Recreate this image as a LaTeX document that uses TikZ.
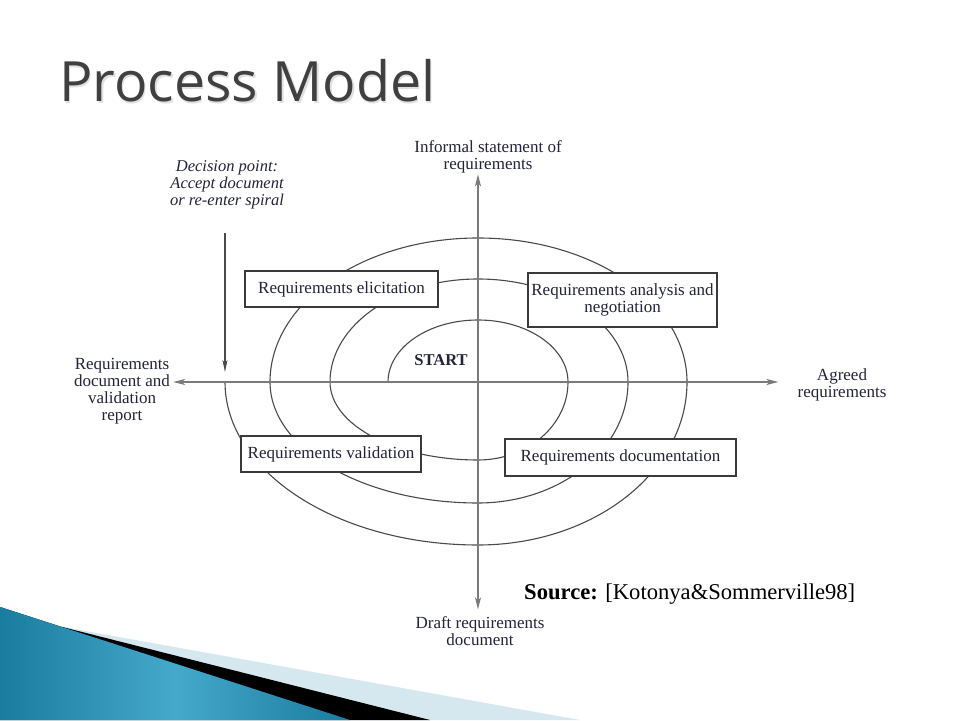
\documentclass[tikz,border=0pt]{standalone}
\usepackage{fontspec}
\setmainfont{Liberation Serif}
\newfontfamily\titlefont{Open Sans}
\usetikzlibrary{arrows.meta}
\definecolor{txt}{HTML}{23233A}
\definecolor{titlegray}{HTML}{404040}
\definecolor{boxline}{HTML}{3A3A3A}
\definecolor{spiralline}{HTML}{4A4A4A}
\definecolor{axisline}{HTML}{7A7A7A}
\definecolor{bandlight}{HTML}{D5E8EF}
\definecolor{bluedark}{HTML}{1A7C9E}
\definecolor{bluelight}{HTML}{45A9CC}
\tikzset{
  lbl/.style={font=\fontsize{17}{16.8}\selectfont, text=txt, align=center, inner sep=1pt},
  stagebox/.style={draw=boxline, line width=1.8pt, fill=white, font=\fontsize{17}{17.8}\selectfont, text=txt, align=center, inner sep=2pt},
  spiralpath/.style={draw=spiralline, line width=1.1pt},
  axis/.style={draw=axisline, line width=1.5pt, -{Stealth[length=12pt,width=6pt,inset=3pt]}},
}
\begin{document}
\begin{tikzpicture}[x=1pt,y=1pt]
\useasboundingbox (0,0) rectangle (960,720);
\fill[white] (0,0) rectangle (960,720);

% decoration bottom left
\fill[bandlight] (0,113) -- (60,93.6) -- (580,0) -- (0,0) -- cycle;
\fill[black] (0,113) -- (60,93.6) -- (430,0) -- (0,0) -- cycle;
\shade[left color=bluedark, right color=bluedark, middle color=bluelight] (0,113) -- (350,0) -- (0,0) -- cycle;

% title
\node[anchor=base west, inner sep=0pt, font=\titlefont\fontsize{55.5}{60}\selectfont, text=black!12] at (60.5,616.8) {Process Model};
\node (title) [anchor=base west, inner sep=0pt, font=\titlefont\fontsize{55.5}{60}\selectfont, text=titlegray] at (59,618.3) {Process Model};

% centre of the spiral
\coordinate (c) at (478,338);

% spiral
\path[spiralpath] (388,338)
  arc[start angle=180,end angle=90,x radius=90,y radius=62]
  arc[start angle=90,end angle=0,x radius=90,y radius=62]
  arc[start angle=0,end angle=-90,x radius=90,y radius=78]
  arc[start angle=-90,end angle=-180,x radius=148,y radius=78]
  arc[start angle=180,end angle=90,x radius=148,y radius=103]
  arc[start angle=90,end angle=0,x radius=150,y radius=103]
  arc[start angle=0,end angle=-90,x radius=150,y radius=121]
  arc[start angle=-90,end angle=-180,x radius=208,y radius=121]
  arc[start angle=180,end angle=90,x radius=208,y radius=144]
  arc[start angle=90,end angle=0,x radius=209,y radius=144]
  arc[start angle=0,end angle=-90,x radius=209,y radius=163]
  arc[start angle=-90,end angle=-180,x radius=253,y radius=163];

% labels
\node (inf) [lbl] at (488,563) {Informal statement of\\requirements};
\node (draft) [lbl] at (480,89) {Draft requirements\\document};
\node (agr) [lbl] at (842,335) {Agreed\\requirements};
\node (rdoc) [lbl] at (122,329) {Requirements\\document and\\validation\\report};
\node (dec) [lbl, font=\itshape\fontsize{16.5}{17}\selectfont] at (227,535) {Decision point:\\Accept document\\or re-enter spiral};
\node (start) [lbl, font=\bfseries\fontsize{16.5}{17}\selectfont] at (441,360) {START};
\node (src) [anchor=base west, inner sep=0pt, font=\fontsize{22.6}{24}\selectfont, text=black] at (524,121) {\textbf{Source:} [Kotonya\&Sommerville98]};

% axes
\draw[axis] (c) -- (c |- inf.south);
\draw[axis] (c) -- ([yshift=6pt]c |- draft.north);
\draw[axis] (c) -- ([xshift=-18pt]agr.west |- c);
\draw[axis] (c) -- ([xshift=2pt]rdoc.east |- c);

% decision point arrow
\coordinate (dtip) at (225,348);
\coordinate (dtop) at (225,487);
\draw[draw=spiralline, line width=1.1pt, -{Stealth[length=12pt,width=5pt,inset=3pt]}] (dtop) -- (dtip);

% stage boxes
\node (elic) [stagebox, minimum width=193pt, minimum height=36pt] at (341.5,431) {Requirements elicitation};
\node (anal) [stagebox, minimum width=189pt, minimum height=54pt] at (622.5,420) {Requirements analysis and\\negotiation};
\node (valid) [stagebox, minimum width=180pt, minimum height=36pt] at (331,266) {Requirements validation};
\node (docu) [stagebox, minimum width=231pt, minimum height=37pt] at (620.5,262.5) {Requirements documentation};
\end{tikzpicture}
\end{document}
